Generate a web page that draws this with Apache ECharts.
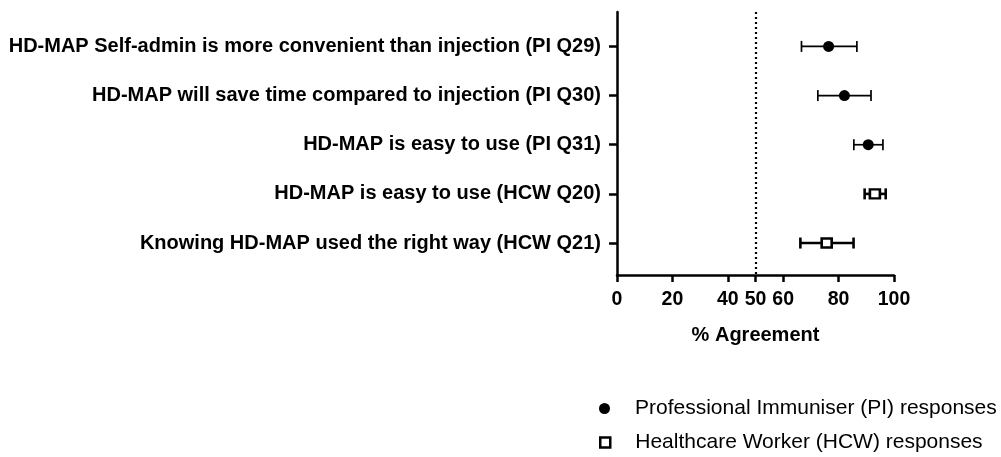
<!DOCTYPE html>
<html><head><meta charset="utf-8">
<script src="https://cdn.jsdelivr.net/npm/echarts@6/dist/echarts.min.js"></script>
<style>html,body{margin:0;padding:0;background:#fff}#c{width:1001px;height:457px}</style>
</head><body><div id="c"></div>
<script>
const categories = [
  "HD-MAP Self-admin is more convenient than injection (PI Q29)",
  "HD-MAP will save time compared to injection (PI Q30)",
  "HD-MAP is easy to use (PI Q31)",
  "HD-MAP is easy to use (HCW Q20)",
  "Knowing HD-MAP used the right way (HCW Q21)"
];
const groups = ["PI", "PI", "PI", "HCW", "HCW"];
const means = [76.4, 82.1, 90.7, 93.1, 75.7];
const lows  = [66.6, 72.5, 85.5, 89.4, 66.2];
const highs = [86.6, 91.7, 96.0, 97.0, 85.4];
const xTicks = [0, 20, 40, 50, 60, 80, 100];
const refLine = 50;
const seriesNames = ["Professional Immuniser (PI) responses", "Healthcare Worker (HCW) responses"];

const font = "'Liberation Sans', Arial, Helvetica, sans-serif";
const rows = categories.map((c, i) => i + 1);

function pts(g) {
  const out = [];
  means.forEach((m, i) => { if (groups[i] === g) out.push([m, i + 1]); });
  return out;
}
function errs(g) {
  const out = [];
  means.forEach((m, i) => { if (groups[i] === g) out.push([lows[i], highs[i], i + 1]); });
  return out;
}
function errRender(width) {
  return function (params, api) {
    const a = api.coord([api.value(0), api.value(2)]);
    const b = api.coord([api.value(1), api.value(2)]);
    const h = 5.5;
    const st = { stroke: '#000', lineWidth: width };
    return { type: 'group', children: [
      { type: 'line', shape: { x1: a[0], y1: a[1], x2: b[0], y2: b[1] }, style: st },
      { type: 'line', shape: { x1: a[0], y1: a[1] - h, x2: a[0], y2: a[1] + h }, style: st },
      { type: 'line', shape: { x1: b[0], y1: b[1] - h, x2: b[0], y2: b[1] + h }, style: st }
    ]};
  };
}
const legendText = { fontFamily: font, fontSize: 21, color: '#000', padding: [0, 0, 0, 20] };

const chart = echarts.init(document.getElementById('c'), null, { renderer: 'canvas' });
chart.setOption({
  animation: false,
  backgroundColor: '#fff',
  grid: { left: 617, right: 107, top: 12, bottom: 182, containLabel: false },
  xAxis: {
    type: 'value', min: 0, max: 100,
    name: '% Agreement', nameLocation: 'middle', nameGap: 50,
    nameTextStyle: { fontFamily: font, fontWeight: 'bold', fontSize: 20, color: '#000' },
    axisLine: { show: true, lineStyle: { color: '#000', width: 2.5 } },
    axisTick: { show: true, customValues: xTicks, length: 7, lineStyle: { color: '#000', width: 2.5 } },
    axisLabel: { customValues: xTicks, fontFamily: font, fontWeight: 'bold', fontSize: 19.5, color: '#000', margin: 15 },
    splitLine: { show: false }
  },
  yAxis: {
    type: 'value', inverse: true, min: 0.3, max: 5.65,
    axisLine: { show: true, lineStyle: { color: '#000', width: 2.5 } },
    axisTick: { show: true, customValues: rows, length: 8, lineStyle: { color: '#000', width: 2.5 } },
    axisLabel: { customValues: rows, formatter: v => categories[v - 1] || '', fontFamily: font, fontWeight: 'bold', fontSize: 20, color: '#000', margin: 16 },
    splitLine: { show: false }
  },
  legend: [
    {
      left: 599, top: 398, padding: 0, itemWidth: 11, itemHeight: 11,
      textStyle: legendText,
      data: [{ name: seriesNames[0], icon: 'circle', itemStyle: { color: '#000', borderWidth: 0, opacity: 1 } }]
    },
    {
      left: 599, top: 432, padding: 0, itemWidth: 10, itemHeight: 10,
      textStyle: legendText,
      data: [{ name: seriesNames[1], icon: 'rect', itemStyle: { color: '#fff', borderColor: '#000', borderWidth: 2.5, opacity: 1 } }]
    }
  ],
  series: [
    { type: 'custom', renderItem: errRender(1.7), data: errs('PI'), z: 2, silent: true },
    { type: 'custom', renderItem: errRender(2.6), data: errs('HCW'), z: 2, silent: true },
    {
      name: seriesNames[0], type: 'scatter', data: pts('PI'), symbol: 'circle', symbolSize: 11,
      itemStyle: { color: '#000', opacity: 1 }, z: 5,
      markLine: {
        silent: true, symbol: 'none', label: { show: false },
        lineStyle: { color: '#000', type: [2, 3], width: 2.2, opacity: 1 },
        data: [{ xAxis: refLine }]
      }
    },
    {
      name: seriesNames[1], type: 'scatter', data: pts('HCW'), symbol: 'rect', symbolSize: [10, 9],
      itemStyle: { color: '#fff', borderColor: '#000', borderWidth: 2.5, opacity: 1 }, z: 5
    }
  ]
});
</script></body></html>
